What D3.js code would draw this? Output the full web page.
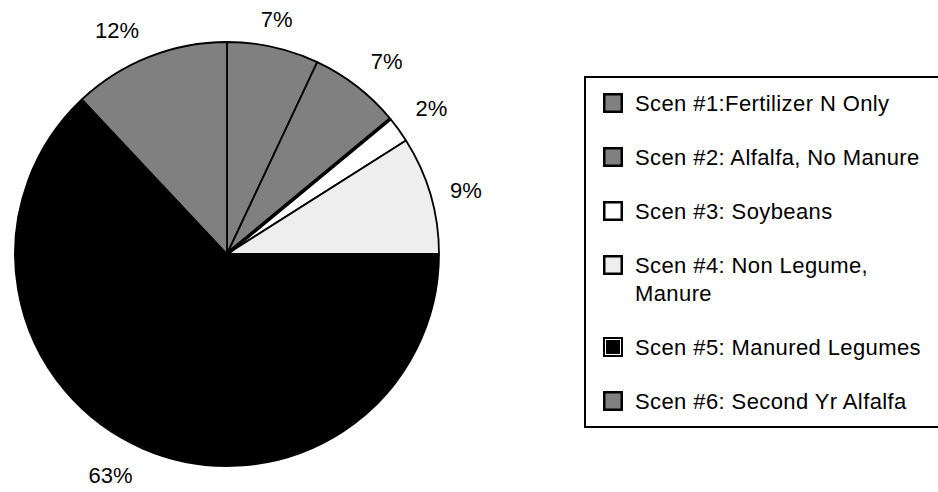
<!DOCTYPE html>
<html>
<head>
<meta charset="utf-8">
<script src="https://cdn.jsdelivr.net/npm/d3@7"></script>
<style>
  html, body { margin: 0; padding: 0; background: #fff; }
  svg { display: block; font-family: "Liberation Sans", Arial, sans-serif; }
</style>
</head>
<body>
<svg id="chart" width="938" height="492"></svg>
<script>
// Share of each nitrogen scenario (percent)
const scenarios = [
  "Scen #1:Fertilizer N Only",
  "Scen #2: Alfalfa, No Manure",
  "Scen #3: Soybeans",
  "Scen #4: Non Legume, Manure",
  "Scen #5: Manured Legumes",
  "Scen #6: Second Yr Alfalfa"
];
const shares = [7, 7, 2, 9, 63, 12];
const fills = ["#808080", "#808080", "#ffffff", "#eeeeee", "#000000", "#808080"];
// Legend lines, wrapped as the legend prints them
const legendLines = [
  ["Scen #1:Fertilizer N Only"],
  ["Scen #2: Alfalfa, No Manure"],
  ["Scen #3: Soybeans"],
  ["Scen #4: Non Legume,", "Manure"],
  ["Scen #5: Manured Legumes"],
  ["Scen #6: Second Yr Alfalfa"]
];

const svg = d3.select("#chart");
const cx = 227, cy = 254, R = 212;

const data = scenarios.map((name, i) => ({ name, value: shares[i], fill: fills[i] }));
const total = d3.sum(shares);

const pie = d3.pie().value(d => d.value).sort(null);
const arcs = pie(data);
const arc = d3.arc().innerRadius(0).outerRadius(R);

const g = svg.append("g").attr("transform", `translate(${cx},${cy})`);

g.selectAll("path.slice")
  .data(arcs)
  .join("path")
  .attr("class", "slice")
  .attr("d", arc)
  .attr("fill", d => d.data.fill)
  .attr("stroke", "#000")
  .attr("stroke-width", 1.8)
  .attr("stroke-linejoin", "round");

// The soybean slice's leading edge carries a heavier rule
const soy = arcs[2];
g.append("line")
  .attr("x1", 0).attr("y1", 0)
  .attr("x2", R * Math.sin(soy.startAngle))
  .attr("y2", -R * Math.cos(soy.startAngle))
  .attr("stroke", "#000")
  .attr("stroke-width", 3.6);

// Percent labels: anchored at a point just past the rim, the text box
// pushed to the side / above / below that point depending on direction
const fmt = d3.format(".0%");
const labelSize = 22;
g.selectAll("text.pct")
  .data(arcs)
  .join("text")
  .attr("class", "pct")
  .attr("font-size", labelSize)
  .attr("fill", "#000")
  .attr("text-anchor", "middle")
  .attr("dominant-baseline", "central")
  .text(d => fmt(d.data.value / total))
  .each(function(d) {
    const a = (d.startAngle + d.endAngle) / 2;
    const w = this.getComputedTextLength();
    const s = Math.sin(a), c = -Math.cos(a);
    const D = R + 16;
    const dx = Math.abs(s) < 0.3 ? 0 : Math.sign(s) * (w / 2 + 4);
    const dy = Math.abs(c) < 0.4 ? 0 : Math.sign(c) * 12;
    d3.select(this).attr("x", s * D + dx).attr("y", c * D + dy);
  });

// Legend
const lg = svg.append("g");
const boxX = 585, boxY = 77;
const rowPitch = 54, wrapPitch = 28, firstY = 103, sw = 20, textX = 635;
const frame = lg.append("rect")
  .attr("x", boxX).attr("y", boxY)
  .attr("width", 938 - boxX + 10)
  .attr("fill", "#fff").attr("stroke", "#000").attr("stroke-width", 2);

let y = firstY;
legendLines.forEach((lines, i) => {
  const row = lg.append("g").attr("transform", `translate(0,${y})`);
  row.append("rect")
    .attr("x", 603).attr("y", -sw / 2)
    .attr("width", sw).attr("height", sw)
    .attr("fill", "#000");
  row.append("rect")
    .attr("x", 605.5).attr("y", -sw / 2 + 2.5)
    .attr("width", sw - 5).attr("height", sw - 5)
    .attr("fill", fills[i])
    .attr("stroke", fills[i] === "#000000" ? "#fff" : "none")
    .attr("stroke-width", 1);
  lines.forEach((t, k) => {
    row.append("text")
      .attr("x", textX).attr("y", k * wrapPitch)
      .attr("dominant-baseline", "central")
      .attr("font-size", 22)
      .attr("letter-spacing", 0.4)
      .attr("fill", "#000")
      .text(t);
  });
  y += rowPitch + (lines.length - 1) * wrapPitch;
});
frame.attr("height", (y - rowPitch) + 26 - boxY);
</script>
</body>
</html>
